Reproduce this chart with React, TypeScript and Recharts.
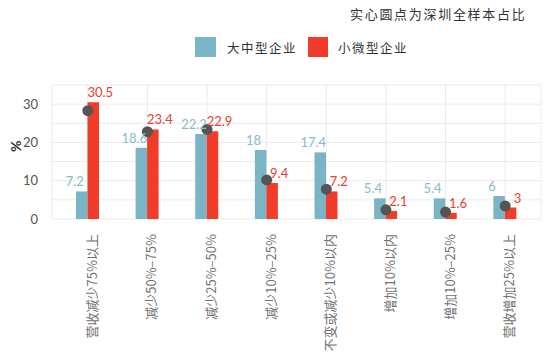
import {
  Bar,
  CartesianGrid,
  ComposedChart,
  LabelList,
  Line,
  XAxis,
  YAxis,
} from "recharts";

const categories = [
  "营收减少75%以上",
  "减少50%–75%",
  "减少25%–50%",
  "减少10%–25%",
  "不变或减少10%以内",
  "增加10%以内",
  "增加10%–25%",
  "营收增加25%以上",
];
const largeMid = [7.2, 18.6, 22.2, 18, 17.4, 5.4, 5.4, 6];
const smallMicro = [30.5, 23.4, 22.9, 9.4, 7.2, 2.1, 1.6, 3];
const shenzhenAll = [28.3, 22.8, 23.4, 10.2, 7.8, 2.4, 1.8, 3.4];
const yTicks = [0, 5, 10, 15, 20, 25, 30];

const BLUE = "#79b5c6";
const RED = "#f03c28";
const CJK = '"Noto Sans CJK SC", "Noto Sans", sans-serif';
const NUM = 'Lato, "Noto Sans", sans-serif';

const data = categories.map((name, i) => ({
  name,
  large: largeMid[i],
  small: smallMicro[i],
  sz: shenzhenAll[i],
}));

function XTick(props: any) {
  const { x, y, payload } = props;
  return (
    <text
      x={x + 9}
      y={y + 7}
      transform={`rotate(-90, ${x + 9}, ${y + 7})`}
      textAnchor="end"
      fontFamily={CJK}
      fontSize={13}
      fill="#707070"
    >
      {payload.value}
    </text>
  );
}

function makeLabel(color: string, dx: number) {
  return (props: any) => {
    const { x, y, width, value } = props;
    return (
      <text
        x={x + width / 2 + dx}
        y={y - 5}
        textAnchor="middle"
        fontFamily={NUM}
        fontSize={13}
        fill={color}
      >
        {value}
      </text>
    );
  };
}

export default function App() {
  return (
    <div
      style={{
        position: "absolute",
        left: 0,
        top: 0,
        width: 550,
        height: 361,
        background: "#fff",
      }}
    >
      <div
        style={{
          position: "absolute",
          left: 350,
          top: 4,
          fontFamily: CJK,
          fontSize: 13,
          letterSpacing: 1.7,
          color: "#333",
          whiteSpace: "nowrap",
        }}
      >
        实心圆点为深圳全样本占比
      </div>
      <div
        style={{
          position: "absolute",
          left: 195,
          top: 37,
          display: "flex",
          alignItems: "center",
          fontFamily: CJK,
          fontSize: 12.5,
          letterSpacing: 1.5,
          color: "#333",
          whiteSpace: "nowrap",
        }}
      >
        <span style={{ width: 21, height: 20, background: BLUE, display: "inline-block" }} />
        <span style={{ marginLeft: 11, marginRight: 11 }}>大中型企业</span>
        <span style={{ width: 20, height: 20, background: RED, display: "inline-block" }} />
        <span style={{ marginLeft: 10 }}>小微型企业</span>
      </div>
      <ComposedChart
        width={550}
        height={361}
        data={data}
        margin={{ top: 85, right: 9, bottom: 0, left: 12 }}
        barGap={0}
        style={{ position: "absolute", left: 0, top: 0 }}
      >
        <CartesianGrid stroke="#ebebeb" strokeWidth={1} />
        <XAxis
          dataKey="name"
          interval={0}
          height={142}
          padding={{ left: 6, right: 6 }}
          axisLine={false}
          tickLine={false}
          tick={<XTick />}
        />
        <YAxis
          domain={[0, 35]}
          ticks={yTicks}
          width={40}
          axisLine={false}
          tickLine={false}
          tickFormatter={(v: number) => (v % 10 === 0 ? String(v) : "")}
          tick={{ fill: "#555", fontSize: 13, fontFamily: NUM }}
          tickMargin={8}
          label={{
            value: "%",
            angle: -90,
            position: "insideLeft",
            offset: 0,
            dx: 4,
            style: { fill: "#333", fontSize: 14, fontWeight: 700, fontFamily: NUM },
          }}
        />
        <Bar dataKey="large" fill={BLUE} barSize={11.5} isAnimationActive={false}>
          <LabelList dataKey="large" content={makeLabel("#86bccb", -7)} />
        </Bar>
        <Bar dataKey="small" fill={RED} barSize={11.5} isAnimationActive={false}>
          <LabelList dataKey="small" content={makeLabel("#e8402c", 7)} />
        </Bar>
        <Line
          dataKey="sz"
          stroke="none"
          dot={{ r: 5.5, fill: "#555", stroke: "none" }}
          activeDot={false}
          isAnimationActive={false}
        />
      </ComposedChart>
    </div>
  );
}
